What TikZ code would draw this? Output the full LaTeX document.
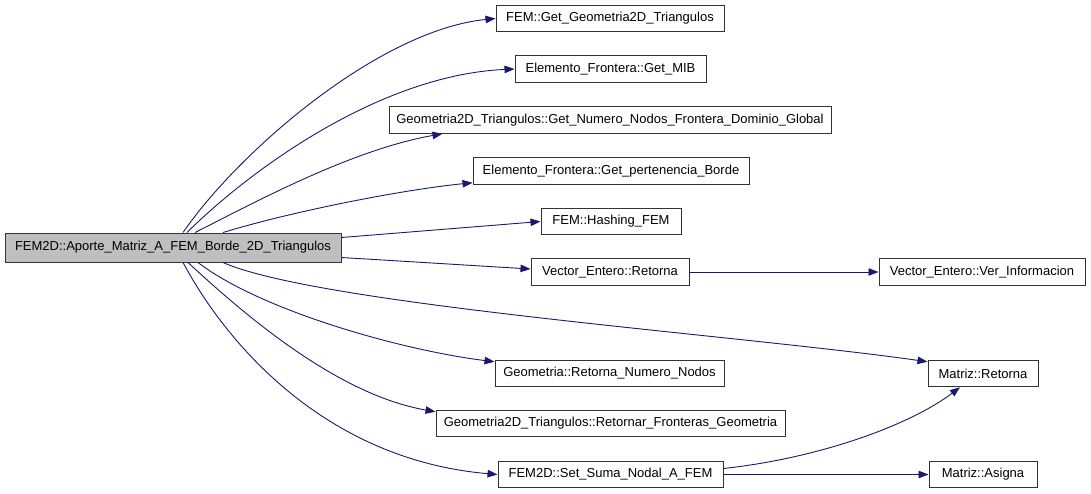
\documentclass[tikz,border=0pt]{standalone}
\usepackage{fontspec}
\setmainfont{Liberation Sans}
\usepackage{xcolor}
\usetikzlibrary{positioning,calc,arrows.meta}
\definecolor{CEdge}{HTML}{191970}
\definecolor{CGray}{HTML}{BFBFBF}
\definecolor{CLine}{HTML}{333333}

\begin{document}
\begin{tikzpicture}[x=1pt, y=-1pt,
  every node/.style={font=\fontsize{13}{15}\selectfont, text=black},
  fn/.style={draw=CLine, fill=white, line width=1pt, inner sep=0pt,
             minimum height=26.5pt, align=center},
  root/.style={fn, fill=CGray, minimum height=29pt},
  call/.style={-{Triangle[length=10pt,width=7.5pt]}, draw=CEdge, line width=0.9pt}]
\useasboundingbox (0,0) rectangle (1091,493);
% caller
\node[root, minimum width=336pt] (main) at (173,247.5) {FEM2D::Aporte\_Matriz\_A\_FEM\_Borde\_2D\_Triangulos};
% callees
\node[fn, minimum width=228pt] (geo)   at (610,18.5)  {FEM::Get\_Geometria2D\_Triangulos};
\node[fn, minimum width=191pt] (mib)   at (610.5,69)  {Elemento\_Frontera::Get\_MIB};
\node[fn, minimum width=442pt] (nnf)   at (610,120)   {Geometria2D\_Triangulos::Get\_Numero\_Nodos\_Frontera\_Dominio\_Global};
\node[fn, minimum width=276pt] (pert)  at (611,171)   {Elemento\_Frontera::Get\_pertenencia\_Borde};
\node[fn, minimum width=140pt] (hash)  at (611,221.5) {FEM::Hashing\_FEM};
\node[fn, minimum width=158pt] (vret)  at (610,272)   {Vector\_Entero::Retorna};
\node[fn, minimum width=206pt] (vinfo) at (982,272)   {Vector\_Entero::Ver\_Informacion};
\node[fn, minimum width=229pt] (gnn)   at (609.5,373.5) {Geometria::Retorna\_Numero\_Nodos};
\node[fn, minimum width=349pt] (front) at (610.5,423.5) {Geometria2D\_Triangulos::Retornar\_Fronteras\_Geometria};
\node[fn, minimum width=225pt] (suma)  at (610.5,474.5) {FEM2D::Set\_Suma\_Nodal\_A\_FEM};
\node[fn, minimum width=110pt] (mret)  at (983,373.5) {Matriz::Retorna};
\node[fn, minimum width=108pt] (masig) at (983,474.5) {Matriz::Asigna};
% upper calls
\draw[call] ([xshift=10pt]main.north) .. controls (240,150) and (380,30) .. (geo.west);
\draw[call] ([xshift=14pt]main.north) .. controls (250,170) and (380,75) .. (mib.west);
\draw[call] ([xshift=22pt]main.north) .. controls (250,205) and (350,150) .. ([xshift=54pt]nnf.south west);
\draw[call] ([xshift=50pt]main.north) .. controls (290,212) and (400,190) .. ([yshift=2pt]pert.south west);
\draw[call] ([yshift=10pt]main.east) -- (hash.west);
\draw[call] ([yshift=-10pt]main.east) -- ([yshift=3pt]vret.west);
\draw[call] (vret) -- (vinfo);
% lower calls
\draw[call] ([xshift=50pt]main.south) .. controls (320,305) and (740,335) .. ([yshift=-2pt]mret.north west);
\draw[call] ([xshift=25pt]main.south) .. controls (260,310) and (400,350) .. ([yshift=-2pt]gnn.north west);
\draw[call] ([xshift=15pt]main.south) .. controls (250,320) and (340,395) .. ([yshift=-2pt]front.north west);
\draw[call] ([xshift=10pt]main.south) .. controls (230,350) and (330,460) .. (suma.west);
\draw[call] ([yshift=6pt]suma.east) .. controls (820,458) and (910,425) .. ([xshift=-23pt]mret.south);
\draw[call] (suma) -- (masig);
\end{tikzpicture}
\end{document}
